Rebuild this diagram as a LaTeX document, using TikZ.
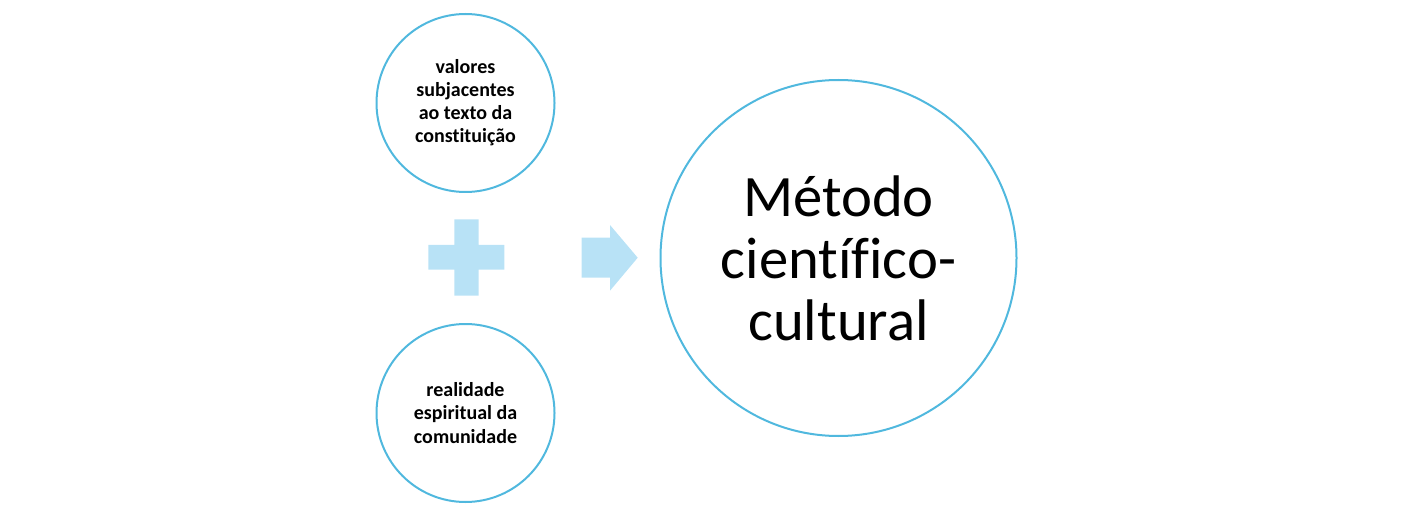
\documentclass[tikz,border=0pt]{standalone}
\usepackage{fontspec}
\setmainfont{Carlito}[Ligatures=NoCommon]
\definecolor{ringblue}{RGB}{80,184,222}
\definecolor{paleblue}{RGB}{184,226,246}
\tikzset{
    ring/.style={circle, draw=ringblue, line width=1.5pt, align=center, inner sep=0pt},
    smallring/.style={ring, minimum size=133.5pt, font=\bfseries\fontsize{15}{17.3}\selectfont},
    bigring/.style={ring, minimum size=267pt, font=\fontsize{44}{46.5}\selectfont},
}
\begin{document}
\begin{tikzpicture}[x=0.75pt, y=-0.75pt]
    \useasboundingbox (0,0) rectangle (1402,513);
    \node[smallring] (valores) at (465.5,103) {valores\\subjacentes\\ao texto da\\constituição};
    \node[smallring] (realidade) at (465.5,413) {realidade\\espiritual da\\comunidade};
    \node[bigring] (metodo) at (838.5,258) {Método\\científico-\\cultural};
    % plus sign
    \fill[paleblue] (454.3,219.3) -- (478.7,219.3) -- (478.7,245) -- (504.3,245) -- (504.3,269.7)
        -- (478.7,269.7) -- (478.7,295.7) -- (454.3,295.7) -- (454.3,269.7) -- (428.3,269.7)
        -- (428.3,245) -- (454.3,245) -- cycle;
    % arrow
    \fill[paleblue] (581.7,237.7) -- (610,237.7) -- (610,225) -- (637.7,257.7) -- (610,290.7)
        -- (610,277.7) -- (581.7,277.7) -- cycle;
\end{tikzpicture}
\end{document}
